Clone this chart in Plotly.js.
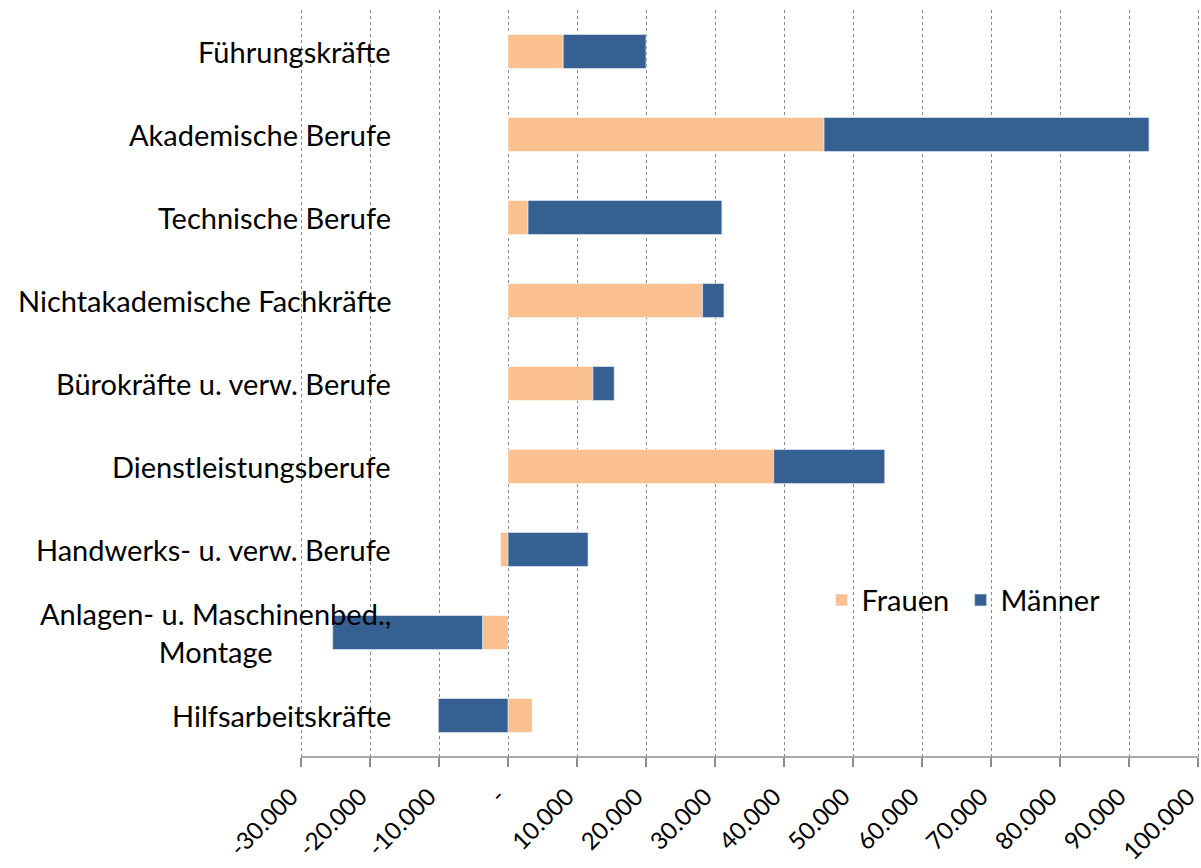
<!DOCTYPE html>
<html>
<head>
<meta charset="utf-8">
<script src="https://cdn.plot.ly/plotly-3.0.1.min.js"></script>
<style>html,body{margin:0;padding:0;background:#fff;}#chart{width:1201px;height:868px;}</style>
</head>
<body>
<div id="chart"></div>
<script>
const categories = [
  "Führungskräfte",
  "Akademische Berufe",
  "Technische Berufe",
  "Nichtakademische Fachkräfte",
  "Bürokräfte u. verw. Berufe",
  "Dienstleistungsberufe",
  "Handwerks- u. verw. Berufe",
  "Anlagen- u. Maschinenbed.,<br>Montage",
  "Hilfsarbeitskräfte"
];
const frauen = [8000, 45800, 2900, 28200, 12300, 38500, -1100, -3700, 3500];
const maenner = [12000, 47100, 28100, 3100, 3100, 16100, 11600, -21700, -10100];
const tickVals = [-30000, -20000, -10000, 0, 10000, 20000, 30000, 40000, 50000, 60000, 70000, 80000, 90000, 100000];
const tickText = ["-30.000", "-20.000", "-10.000", "-", "10.000", "20.000", "30.000", "40.000", "50.000", "60.000", "70.000", "80.000", "90.000", "100.000"];

const FONT = "Lato, 'Open Sans', sans-serif";

const traces = [
  {type: "bar", orientation: "h", name: "Frauen", y: categories, x: frauen,
   marker: {color: "#FAC090", line: {color: "rgba(255,255,255,0.5)", width: 1}}},
  {type: "bar", orientation: "h", name: "Männer", y: categories, x: maenner,
   marker: {color: "#376092", line: {color: "rgba(220,230,242,0.7)", width: 1}}}
];

const annotations = categories.map(c => ({
  xref: "paper", yref: "y", x: 0, y: c, xshift: 94, xanchor: "right", yanchor: "middle",
  text: c, align: "center", showarrow: false, font: {family: FONT, size: 29, color: "#000"}
}));

const layout = {
  width: 1201, height: 868,
  margin: {l: 299, r: 1, t: 10, b: 111},
  paper_bgcolor: "#fff", plot_bgcolor: "#fff",
  barmode: "relative", bargap: 0.59,
  font: {family: FONT, size: 29, color: "#000"},
  xaxis: {
    range: [-30290, 100290], tickvals: tickVals, ticktext: tickText, tickangle: -45,
    showgrid: true, gridcolor: "#8c8c8c", griddash: "dot", gridwidth: 1,
    zeroline: false, showline: false,
    ticks: "outside", ticklen: 9, tickcolor: "#8c8c8c", tickwidth: 1.5,
    ticklabelstandoff: 6, ticklabelshift: -10, ticklabeloverflow: "allow",
    tickfont: {family: FONT, size: 24, color: "#000"}
  },
  yaxis: {
    type: "category", categoryorder: "array", categoryarray: categories, autorange: "reversed",
    showticklabels: false, showgrid: false, zeroline: false, showline: false, ticks: ""
  },
  shapes: [{type: "line", xref: "x", yref: "paper", x0: tickVals[0], x1: tickVals[tickVals.length - 1], y0: 0, y1: 0,
            line: {color: "#8c8c8c", width: 1.5}}],
  legend: {
    orientation: "h", x: 0.58, y: 0.21, xanchor: "left", yanchor: "middle", entrywidth: 94,
    bgcolor: "rgba(0,0,0,0)", font: {family: FONT, size: 29, color: "#000"}, traceorder: "normal"
  },
  annotations: annotations,
  showlegend: true
};

Plotly.newPlot("chart", traces, layout, {displayModeBar: false, staticPlot: true});
</script>
</body>
</html>
